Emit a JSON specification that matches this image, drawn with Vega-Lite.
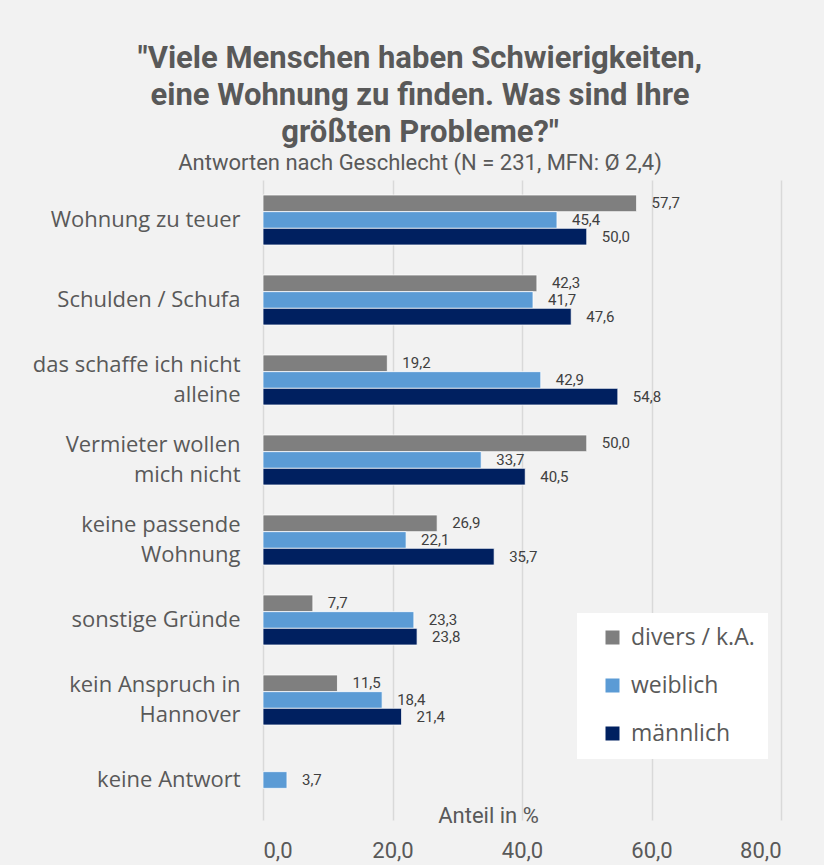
{
  "$schema": "https://vega.github.io/schema/vega-lite/v6.json",
  "width": 518,
  "height": 640,
  "autosize": {"type": "none"},
  "padding": {"left": 263, "top": 180, "right": 43, "bottom": 45},
  "background": "#f2f2f2",
  "title": {
    "text": ["\"Viele Menschen haben Schwierigkeiten,", "eine Wohnung zu finden. Was sind Ihre", "größten Probleme?\""],
    "subtitle": "Antworten nach Geschlecht (N = 231, MFN: Ø 2,4)",
    "anchor": "middle",
    "dx": -102,
    "offset": 5,
    "font": "Roboto, sans-serif",
    "fontSize": 31,
    "fontWeight": "bold",
    "lineHeight": 37,
    "color": "#595959",
    "subtitleFont": "Roboto, sans-serif",
    "subtitleFontSize": 22,
    "subtitleColor": "#595959",
    "subtitlePadding": 4
  },
  "data": {
    "values": [
      {"kategorie": "Wohnung zu teuer", "gruppe": "divers / k.A.", "anteil": 57.7},
      {"kategorie": "Wohnung zu teuer", "gruppe": "weiblich", "anteil": 45.4},
      {"kategorie": "Wohnung zu teuer", "gruppe": "männlich", "anteil": 50.0},
      {"kategorie": "Schulden / Schufa", "gruppe": "divers / k.A.", "anteil": 42.3},
      {"kategorie": "Schulden / Schufa", "gruppe": "weiblich", "anteil": 41.7},
      {"kategorie": "Schulden / Schufa", "gruppe": "männlich", "anteil": 47.6},
      {"kategorie": "das schaffe ich nicht|alleine", "gruppe": "divers / k.A.", "anteil": 19.2},
      {"kategorie": "das schaffe ich nicht|alleine", "gruppe": "weiblich", "anteil": 42.9},
      {"kategorie": "das schaffe ich nicht|alleine", "gruppe": "männlich", "anteil": 54.8},
      {"kategorie": "Vermieter wollen|mich nicht", "gruppe": "divers / k.A.", "anteil": 50.0},
      {"kategorie": "Vermieter wollen|mich nicht", "gruppe": "weiblich", "anteil": 33.7},
      {"kategorie": "Vermieter wollen|mich nicht", "gruppe": "männlich", "anteil": 40.5},
      {"kategorie": "keine passende|Wohnung", "gruppe": "divers / k.A.", "anteil": 26.9},
      {"kategorie": "keine passende|Wohnung", "gruppe": "weiblich", "anteil": 22.1},
      {"kategorie": "keine passende|Wohnung", "gruppe": "männlich", "anteil": 35.7},
      {"kategorie": "sonstige Gründe", "gruppe": "divers / k.A.", "anteil": 7.7},
      {"kategorie": "sonstige Gründe", "gruppe": "weiblich", "anteil": 23.3},
      {"kategorie": "sonstige Gründe", "gruppe": "männlich", "anteil": 23.8},
      {"kategorie": "kein Anspruch in|Hannover", "gruppe": "divers / k.A.", "anteil": 11.5},
      {"kategorie": "kein Anspruch in|Hannover", "gruppe": "weiblich", "anteil": 18.4},
      {"kategorie": "kein Anspruch in|Hannover", "gruppe": "männlich", "anteil": 21.4},
      {"kategorie": "keine Antwort", "gruppe": "weiblich", "anteil": 3.7}
    ]
  },
  "encoding": {
    "y": {
      "field": "kategorie",
      "type": "nominal",
      "sort": null,
      "scale": {"paddingInner": 0.375, "paddingOuter": 0.1875},
      "axis": {
        "title": null,
        "labelExpr": "split(datum.value, '|')",
        "labelOffset": {"condition": {"test": "indexof(datum.value, '|') >= 0", "value": -15}, "value": 0},
        "ticks": false,
        "domain": false,
        "labelPadding": 23,
        "labelFont": "Open Sans, Noto Sans, sans-serif",
        "labelFontSize": 22,
        "labelLineHeight": 30,
        "labelColor": "#595959",
        "labelLimit": 300
      }
    },
    "yOffset": {
      "field": "gruppe",
      "type": "nominal",
      "sort": ["divers / k.A.", "weiblich", "männlich"],
      "scale": {"domain": ["divers / k.A.", "weiblich", "männlich"], "paddingInner": 0, "paddingOuter": 0}
    },
    "x": {
      "field": "anteil",
      "type": "quantitative",
      "scale": {"domain": [0, 80]},
      "axis": {
        "title": "Anteil in %",
        "titleX": 225,
        "titleY": -5,
        "titleBaseline": "middle",
        "titleAnchor": "middle",
        "titleAlign": "center",
        "titleFont": "Roboto, sans-serif",
        "titleFontSize": 22,
        "titleFontWeight": "normal",
        "titleColor": "#595959",
        "values": [0, 20, 40, 60, 80],
        "format": ".1f",
        "ticks": false,
        "domain": false,
        "grid": true,
        "gridColor": "#d9d9d9",
        "gridWidth": 1.5,
        "labelPadding": 20,
        "labelFont": "Roboto, sans-serif",
        "labelFontSize": 22,
        "labelColor": "#595959",
        "labelBaseline": "top"
      }
    }
  },
  "layer": [
    {
      "mark": {"type": "bar", "stroke": "#ffffff", "strokeWidth": 0.75},
      "encoding": {
        "color": {
          "field": "gruppe",
          "type": "nominal",
          "scale": {"domain": ["divers / k.A.", "weiblich", "männlich"], "range": ["#7f7f7f", "#5b9bd5", "#002060"]},
          "legend": {
            "title": null,
            "orient": "none",
            "legendX": 314,
            "legendY": 433,
            "fillColor": "#ffffff",
            "padding": 13,
            "symbolType": "square",
            "symbolSize": 196,
            "symbolStrokeWidth": 0,
            "symbolOffset": 11,
            "labelFont": "Open Sans, Noto Sans, sans-serif",
            "labelFontSize": 23,
            "labelColor": "#595959",
            "labelOffset": 7,
            "rowPadding": 24,
            "labelLimit": 300
          }
        }
      }
    },
    {
      "mark": {"type": "text", "align": "left", "baseline": "middle", "dx": 15, "font": "Roboto, Noto Sans, sans-serif", "fontSize": 15, "color": "#404040"},
      "encoding": {
        "text": {"field": "anteil", "type": "quantitative", "format": ".1f"}
      }
    }
  ],
  "config": {
    "locale": {"number": {"decimal": ",", "thousands": ".", "grouping": [3], "currency": ["", " €"]}},
    "view": {"stroke": null}
  }
}
